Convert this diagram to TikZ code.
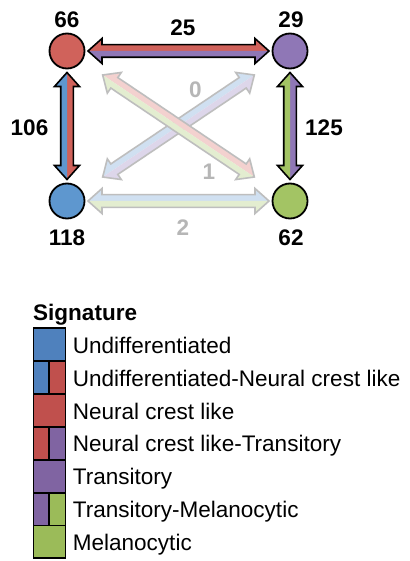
\documentclass[tikz,border=0pt]{standalone}
\usepackage{fontspec}
\setmainfont{Liberation Sans}
\usetikzlibrary{calc}
\definecolor{cred}{HTML}{D0625B}
\definecolor{cblue}{HTML}{5E97CF}
\definecolor{cpurple}{HTML}{8F77B6}
\definecolor{cgreen}{HTML}{A3C464}
\definecolor{fred}{HTML}{F3D1CF}
\definecolor{fblue}{HTML}{D0E0F1}
\definecolor{fpurple}{HTML}{DDD6EA}
\definecolor{fgreen}{HTML}{E3EDD0}
\definecolor{fline}{HTML}{BEBEBE}
\definecolor{ftext}{HTML}{B6B6B6}
\definecolor{lblue}{HTML}{4F81BD}
\definecolor{lred}{HTML}{C0504D}
\definecolor{lpurple}{HTML}{8064A2}
\definecolor{lgreen}{HTML}{9BBB59}
\newcommand{\ahl}{14bp}
\newcommand{\ahw}{12.5bp}
\newcommand{\asw}{6.3bp}
\newcommand{\dblarr}[6]{%
  \coordinate (s) at ($(#1)!#3!(#2)$);
  \coordinate (e) at ($(#2)!#3!(#1)$);
  \coordinate (hs) at ($(s)!\ahl!(e)$);
  \coordinate (he) at ($(e)!\ahl!(s)$);
  \coordinate (hsA) at ($(hs)!\ahw!90:(e)$);
  \coordinate (wsA) at ($(hs)!\asw!90:(e)$);
  \coordinate (heA) at ($(he)!\ahw!-90:(s)$);
  \coordinate (weA) at ($(he)!\asw!-90:(s)$);
  \coordinate (hsB) at ($(hs)!\ahw!-90:(e)$);
  \coordinate (wsB) at ($(hs)!\asw!-90:(e)$);
  \coordinate (heB) at ($(he)!\ahw!90:(s)$);
  \coordinate (weB) at ($(he)!\asw!90:(s)$);
  \fill[#4] (s) -- (hsA) -- (wsA) -- (weA) -- (heA) -- (e) -- cycle;
  \fill[#5] (s) -- (hsB) -- (wsB) -- (weB) -- (heB) -- (e) -- cycle;
  \draw[#6, line width=1.6bp, line join=miter] (s) -- (hsA) -- (wsA) -- (weA) -- (heA) -- (e)
     -- (heB) -- (weB) -- (wsB) -- (hsB) -- cycle;
}
\tikzset{
  state/.style={circle, draw, line width=1.8bp, minimum size=35bp, inner sep=0pt},
  num/.style={font=\fontsize{22.6}{27}\selectfont\bfseries, inner sep=0pt},
  fnum/.style={num, text=ftext},
  legtext/.style={font=\fontsize{22.6}{27}\selectfont, anchor=base west, inner sep=0pt},
  legline/.style={line width=1.8bp, draw=black}
}
\begin{document}
\begin{tikzpicture}[x=1bp,y=-1bp]
\useasboundingbox (0,0) rectangle (409,561);
\fill[white] (0,0) rectangle (409,561);
% states
\node[state, fill=cred] (nc) at (67,51) {};
\node[state, fill=cpurple] (tr) at (290,51) {};
\node[state, fill=cblue] (un) at (67,201) {};
\node[state, fill=cgreen] (me) at (290,201) {};
% faded arrows
\dblarr{un}{tr}{43bp}{fblue}{fpurple}{fline}
\dblarr{nc}{me}{43bp}{fred}{fgreen}{fline}
\dblarr{un}{me}{21bp}{fblue}{fgreen}{fline}
% solid arrows
\dblarr{nc}{tr}{21bp}{cred}{cpurple}{black}
\dblarr{nc}{un}{21.5bp}{cred}{cblue}{black}
\dblarr{tr}{me}{21.5bp}{cpurple}{cgreen}{black}
% labels
\node[num] (l66) at (67,19.5) {66};
\node[num] (l29) at (291,19.5) {29};
\node[num] (l118) at (67,237.5) {118};
\node[num] (l62) at (291,237.5) {62};
\node[num] (l25) at (183,27.5) {25};
\node[num] (l106) at (29.5,128) {106};
\node[num] (l125) at (324,128) {125};
\node[fnum] (l0) at (195.5,90) {0};
\node[fnum] (l1) at (209,172) {1};
\node[fnum] (l2) at (183,227.5) {2};
% legend
\node[legtext, font=\fontsize{22.6}{27}\selectfont\bfseries] (sig) at (33,320) {Signature};
\def\rh{32.86}
\def\lx{33.5}
\def\mx{49}
\def\rx{65.5}
\def\ty{328.3}
\fill[lblue] (\lx,\ty) rectangle (\rx,\ty+\rh);
\fill[lblue] (\lx,\ty+\rh) rectangle (\mx,\ty+2*\rh);
\fill[lred] (\mx,\ty+\rh) rectangle (\rx,\ty+2*\rh);
\fill[lred] (\lx,\ty+2*\rh) rectangle (\rx,\ty+3*\rh);
\fill[lred] (\lx,\ty+3*\rh) rectangle (\mx,\ty+4*\rh);
\fill[lpurple] (\mx,\ty+3*\rh) rectangle (\rx,\ty+4*\rh);
\fill[lpurple] (\lx,\ty+4*\rh) rectangle (\rx,\ty+5*\rh);
\fill[lpurple] (\lx,\ty+5*\rh) rectangle (\mx,\ty+6*\rh);
\fill[lgreen] (\mx,\ty+5*\rh) rectangle (\rx,\ty+6*\rh);
\fill[lgreen] (\lx,\ty+6*\rh) rectangle (\rx,\ty+7*\rh);
\foreach \i in {1,...,6} {\draw[legline] (\lx,\ty+\i*\rh) -- (\rx,\ty+\i*\rh);}
\foreach \i in {1,3,5} {\draw[legline] (\mx,\ty+\i*\rh) -- (\mx,\ty+\i*\rh+\rh);}
\draw[legline] (\lx,\ty) rectangle (\rx,\ty+7*\rh);
\node[legtext] (t1) at (72.7,\ty+25) {Undifferentiated};
\node[legtext] (t2) at (72.7,\ty+\rh+25) {Undifferentiated-Neural crest like};
\node[legtext] (t3) at (72.7,\ty+2*\rh+25) {Neural crest like};
\node[legtext] (t4) at (72.7,\ty+3*\rh+25) {Neural crest like-Transitory};
\node[legtext] (t5) at (72.7,\ty+4*\rh+25) {Transitory};
\node[legtext] (t6) at (72.7,\ty+5*\rh+25) {Transitory-Melanocytic};
\node[legtext] (t7) at (72.7,\ty+6*\rh+25) {Melanocytic};
\end{tikzpicture}
\end{document}
